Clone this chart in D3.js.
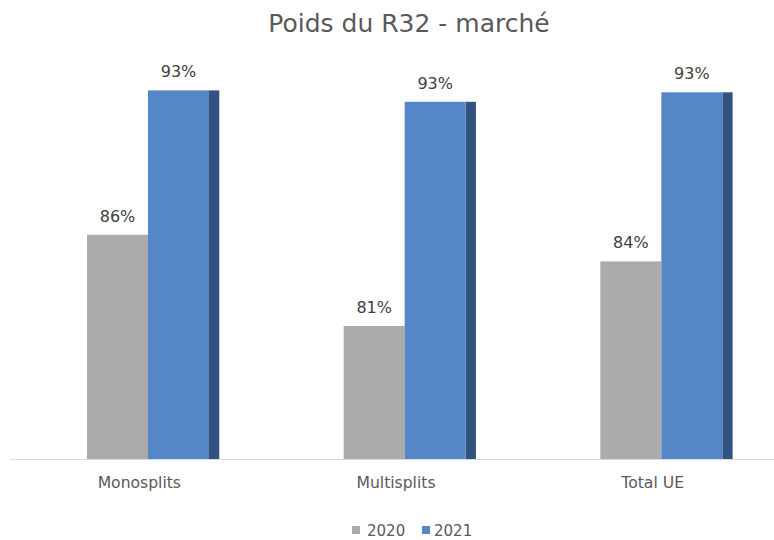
<!DOCTYPE html>
<html>
<head>
<meta charset="utf-8">
<script src="https://cdn.jsdelivr.net/npm/d3@7/dist/d3.min.js"></script>
<style>
  html, body { margin: 0; padding: 0; background: #fff; }
  svg { display: block; font-family: "DejaVu Sans", Verdana, sans-serif; }
</style>
</head>
<body>
<svg id="chart" width="774" height="540"></svg>
<script>
const title = "Poids du R32 - marché";
const categories = ["Monosplits", "Multisplits", "Total UE"];
const seriesNames = ["2020", "2021"];
const values2020 = [85.8, 81.0, 84.4];
const values2021 = [93.4, 92.8, 93.3];
const seriesValues = [values2020, values2021];
const colors = ["#ababab", "#5586c5"];
const sideColor = "#325380";

const W = 774, H = 540;
const svg = d3.select("#chart");

const baseline = 459;
const x0 = d3.scaleBand().domain(categories).range([11, 781]).paddingInner(0).paddingOuter(0);
const groupOffset = 76;   // offset of first bar from band start
const barW = 61;
const depth = 10.3;
const xs = d3.scaleBand().domain(seriesNames).range([0, barW * 2]);
const y = d3.scaleLinear().domain([74, 94]).range([baseline, baseline - 20 * 19]);

// title
svg.append("text")
  .attr("x", 409).attr("y", 32)
  .attr("text-anchor", "middle")
  .attr("font-size", 25)
  .attr("fill", "#595959")
  .text(title);

// axis line
svg.append("line")
  .attr("x1", 10).attr("x2", W)
  .attr("y1", baseline + 0.5).attr("y2", baseline + 0.5)
  .attr("stroke", "#d9d9d9").attr("stroke-width", 1.2);

// bars
const rows = [];
categories.forEach((c, i) => {
  seriesNames.forEach((s, j) => rows.push({ cat: c, ser: s, j, v: seriesValues[j][i] }));
});

const g = svg.append("g");
rows.forEach(d => {
  const bx = x0(d.cat) + groupOffset + xs(d.ser);
  const top = y(d.v);
  if (d.j === 1) {
    g.append("rect")
      .attr("x", bx + barW).attr("y", top)
      .attr("width", depth).attr("height", baseline - top)
      .attr("fill", sideColor);
  }
  g.append("rect")
    .attr("x", bx).attr("y", top)
    .attr("width", barW).attr("height", baseline - top)
    .attr("fill", colors[d.j]);
  g.append("text")
    .attr("x", bx + barW / 2).attr("y", top - 13)
    .attr("text-anchor", "middle")
    .attr("font-size", 16)
    .attr("fill", "#404040")
    .text(Math.round(d.v) + "%");
});

// category labels
svg.append("g").selectAll("text").data(categories).join("text")
  .attr("x", d => x0(d) + x0.bandwidth() / 2)
  .attr("y", 488)
  .attr("text-anchor", "middle")
  .attr("font-size", 15.6)
  .attr("fill", "#595959")
  .text(d => d);

// legend
const legendItems = [
  { name: seriesNames[0], color: colors[0], sx: 352, tx: 367 },
  { name: seriesNames[1], color: colors[1], sx: 422, tx: 434 }
];
const lg = svg.append("g");
legendItems.forEach(it => {
  lg.append("rect").attr("x", it.sx).attr("y", 526).attr("width", 8).attr("height", 8).attr("fill", it.color);
  lg.append("text").attr("x", it.tx).attr("y", 536)
    .attr("font-size", 15).attr("fill", "#595959").text(it.name);
});
</script>
</body>
</html>
